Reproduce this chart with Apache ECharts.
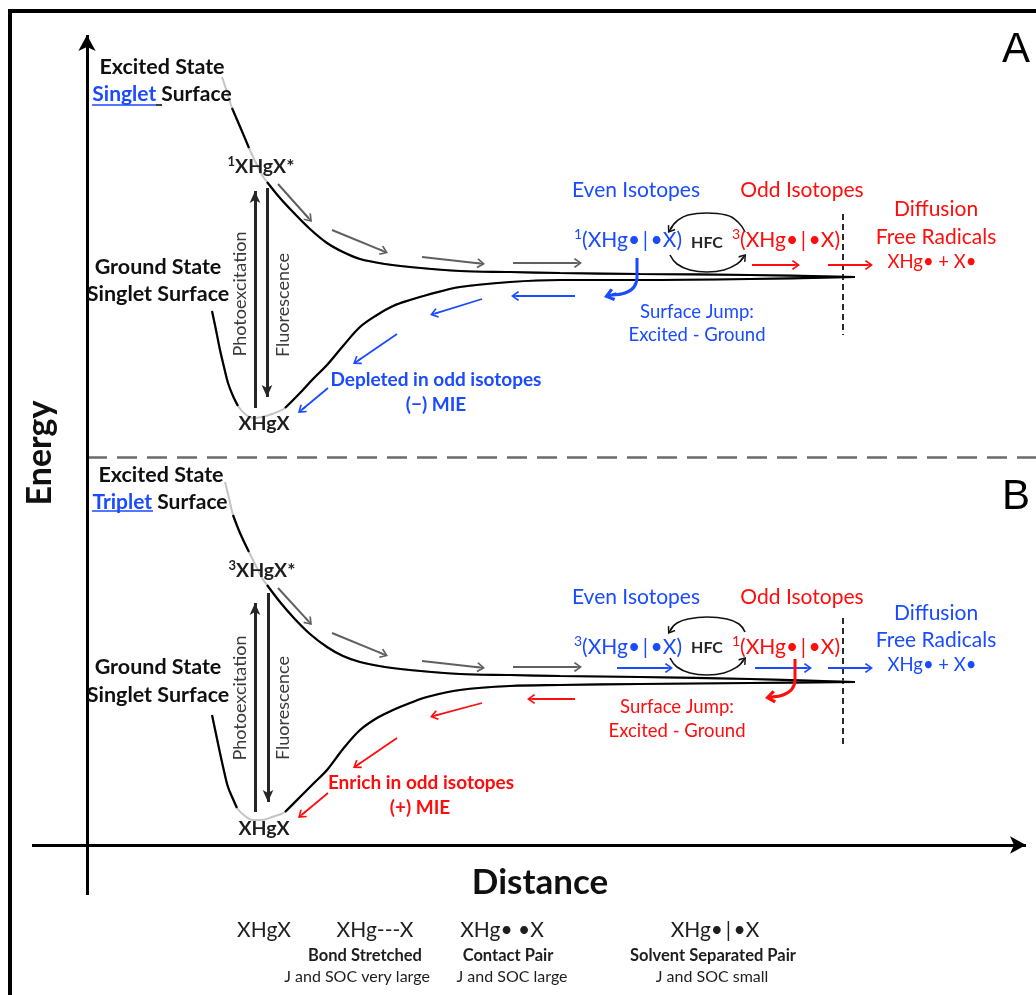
<!DOCTYPE html>
<html>
<head>
<meta charset="utf-8">
<script src="https://cdn.jsdelivr.net/npm/echarts@6/dist/echarts.min.js"></script>
<style>
  html, body { margin: 0; padding: 0; background: #ffffff; }
  #chart { width: 1036px; height: 995px; }
</style>
</head>
<body>
<div id="chart"></div>
<script>
// Energy-surface diagram for XHgX photolysis: (A) singlet and (B) triplet excited surfaces.
// All geometry lives in a 1036 x 995 "diagram" coordinate frame (y grows downward).

// ---- Panel A: singlet surfaces ----
const excitedA = [[222,77],[227,92],[232,108],[241,129],[249,148],[256,163],[262,175],[267,182],[280,198],[293,212],[310,229],[327,243],[343,252],[360,259],[385,264],[410,267],[460,271],[510,272],[560,273],[640,274],[750,275],[855,277]];
const excitedA_dark = [[[232,108],[241,129],[249,148]], [[267,182],[280,198],[293,212],[310,229],[327,243],[343,252],[360,259],[385,264],[410,267],[460,271],[510,272],[560,273],[640,274],[750,275],[855,277]]];
const groundA = [[212,311],[216,330],[220,350],[224,367],[228,383],[233,396],[238,406],[245,414],[253,418],[262,417],[272,414],[285,408],[300,393],[313,379],[327,365],[343,346],[360,327],[377,315],[393,306],[410,300],[427,295],[460,287],[510,282],[560,280],[640,280],[750,279],[855,277]];
const groundA_dark = [[[212,311],[216,330],[220,350],[224,367],[228,383],[233,396],[238,406]], [[285,408],[300,393],[313,379],[327,365],[343,346],[360,327],[377,315],[393,306],[410,300],[427,295],[460,287],[510,282],[560,280],[640,280],[750,279],[855,277]]];

// ---- Panel B: triplet excited surface, singlet ground surface ----
const excitedB = [[225,482],[229,498],[233,515],[240,533],[249,552],[256,566],[262,578],[267,585],[280,602],[293,617],[310,634],[327,647],[343,656],[360,662],[385,667],[410,670],[460,674],[510,675],[560,676],[640,677],[750,679],[855,682]];
const excitedB_dark = [[[233,515],[240,533],[249,552]], [[267,585],[280,602],[293,617],[310,634],[327,647],[343,656],[360,662],[385,667],[410,670],[460,674],[510,675],[560,676],[640,677],[750,679],[855,682]]];
const groundB = [[212,715],[216,734],[220,753],[224,771],[228,787],[233,799],[237,808],[245,816],[253,820],[262,820],[272,817],[285,812],[300,797],[313,784],[327,770],[343,749],[360,730],[377,718],[393,710],[410,703],[427,697],[460,690],[510,686],[560,685],[640,684],[750,683],[855,682]];
const groundB_dark = [[[212,715],[216,734],[220,753],[224,771],[228,787],[233,799],[237,808]], [[285,812],[300,797],[313,784],[327,770],[343,749],[360,730],[377,718],[393,710],[410,703],[427,697],[460,690],[510,686],[560,685],[640,684],[750,683],[855,682]]];

// ---- straight arrows: [from, tip] ----
const grayArrows = [
  [[278,184],[312,222]], [[332,230],[388,253]], [[422,257],[485,264]], [[513,263],[582,263]],
  [[278,588],[312,625]], [[332,633],[388,656]], [[422,661],[485,668]], [[513,667],[582,667]]
];
const blueArrows = [
  [[575,296],[511,296]], [[482,299],[430,315]], [[397,334],[353,364]], [[328,388],[298,413]],
  [[617,668],[673,668]], [[755,668],[812,668]], [[828,668],[873,668]]
];
const redArrows = [
  [[752,265],[800,265]], [[828,265],[873,265]],
  [[575,699],[527,699]], [[482,703],[430,717]], [[397,738],[353,768]], [[328,793],[298,818]]
];
const transitionArrows = [
  [[255,408],[255,185]], [[267,188],[267,403]],
  [[255,812],[255,597]], [[268,593],[268,808]]
];
const mainAxes = [ [[87,895],[87,27]], [[32,845],[1034,845]] ];

// ---- curved arrows (surface jump, hyperfine coupling) ----
const jumpBlue = [[637,258],[637,277],[634,287],[625,293],[612,295]];
const jumpBlueHead = [[611,295],[604,297]];
const jumpRed = [[795,659],[795,680],[792,689],[783,695],[773,697]];
const jumpRedHead = [[772,697],[765,698]];
const hfcArcs = [
  [[745,232],[738,222],[726,215],[707,213],[688,215],[677,221],[671,228]],
  [[670,255],[677,264],[690,270],[707,272],[724,270],[737,264],[743,258]],
  [[745,632],[739,624],[727,619],[707,617],[688,619],[677,623],[671,629]],
  [[670,658],[677,667],[690,673],[707,675],[724,673],[737,667],[743,661]]
];
const hfcHeads = [ [[672,227],[668,233]], [[742,259],[746,254]], [[672,628],[668,634]], [[742,662],[746,657]] ];

// ---- plain rules ----
const frameLines = [ [[8,11],[1036,11]], [[10,9],[10,995]] ];
const panelDivider = [ [[87,457],[1036,457]] ];
const cageBoundary = [ [[843,214],[843,335]], [[843,618],[843,748]] ];
const underlineBlue = [ [[92,105],[156,105]], [[92,511],[153,511]] ];
const underlineBlack = [ [[156,105],[162,105]] ];

// ---- text ----
const TS = '\u2009'; // thin space around the solvent-cage bar
const surfaceTitles = [
  [162,67,'Excited State'], [158,267,'Ground State'], [158,294,'Singlet Surface'],
  [161,475,'Excited State'], [158,667,'Ground State'], [158,695,'Singlet Surface']
];
const multiplicityTitles = [ [162,94,'{u|Singlet }{k|Surface}'], [160,502,'{u|Triplet} {k|Surface}'] ];
const speciesLabels = [ [261,167,'{s|1}XHgX*'], [264,424,'XHgX'], [262,571,'{s|3}XHgX*'], [264,829,'XHgX'] ];
const transitionLabels = [ [240,294,'Photoexcitation'], [283,305,'Fluorescence'], [240,698,'Photoexcitation'], [283,708,'Fluorescence'] ];
const cagePair = '(XHg•' + TS + '|' + TS + '•X)';
const blueLarge = [ [636,190,'Even Isotopes'], [628,240,'{s|1}' + cagePair], [636,597,'Even Isotopes'], [628,647,'{s|3}' + cagePair], [936,613,'Diffusion'], [936,640,'Free Radicals'] ];
const redLarge = [ [802,190,'Odd Isotopes'], [786,240,'{s|3}' + cagePair], [802,597,'Odd Isotopes'], [786,647,'{s|1}' + cagePair], [936,209,'Diffusion'], [936,237,'Free Radicals'] ];
const blueSmall = [ [697,312,'Surface Jump:'], [697,335,'Excited - Ground'], [932,665,'XHg• + X•'] ];
const redSmall = [ [932,262,'XHg• + X•'], [677,707,'Surface Jump:'], [677,731,'Excited - Ground'] ];
const hfcLabels = [ [707,243,'HFC'], [707,648,'HFC'] ];
const mieBlue = [ [436,380,'Depleted in odd isotopes'], [436,405,'(−) MIE'] ];
const mieRed = [ [421,783,'Enrich in odd isotopes'], [420,808,'(+) MIE'] ];
const energyTitle = [ [40,453,'Energy'] ];
const distanceTitle = [ [540,883,'Distance'] ];
const panelLetters = [ [1016,50,'A'], [1016,497,'B'] ];
const pairFormulas = [ [264,930,'XHgX'], [375,930,'XHg---X'], [502,930,'XHg• •X'], [715,930,'XHg•' + TS + '|' + TS + '•X'] ];
const pairNames = [ [365,956,'Bond Stretched'], [508,956,'Contact Pair'], [713,956,'Solvent Separated Pair'] ];
const pairCoupling = [ [357,977,'J and SOC very large'], [512,977,'J and SOC large'], [712,977,'J and SOC small'] ];

// ---- styling ----
const FONT = 'Lato, "Noto Sans", sans-serif';
const BLUE = '#1a4bff';
const RED = '#ff0d0d';
const INK = '#101010';
const CHEVRON = 'path://M5,0 L10,7 L8.8,8.2 L5.7,3.8 L5.7,10 L4.3,10 L4.3,3.8 L1.2,8.2 L0,7 Z';
const CHEVRON_BOLD = 'path://M5,0 L10,6.5 L8.2,8.2 L6,5.2 L6,10 L4,10 L4,5.2 L1.8,8.2 L0,6.5 Z';

function unit(a, b) {
  const dx = b[0] - a[0], dy = b[1] - a[1], L = Math.hypot(dx, dy) || 1;
  return [dx / L, dy / L, L];
}

// Arrow whose head tip lands on `tip` (line symbols are centred on the end point).
function arrowCoords(from, tip, headLen) {
  const [ux, uy, L] = unit(from, tip);
  const end = [tip[0] - ux * headLen / 2, tip[1] - uy * headLen / 2];
  const start = L > headLen / 2 + 1 ? from : [end[0] - ux, end[1] - uy];
  return [start, end];
}

function arrows(list, color, width, head, size) {
  return {
    type: 'lines', coordinateSystem: 'cartesian2d', silent: true, animation: false, z: 3,
    symbol: ['none', head], symbolSize: [size, size],
    lineStyle: { color: color, width: width, opacity: 1, curveness: 0 },
    data: list.map(p => ({ coords: arrowCoords(p[0], p[1], size[1]) }))
  };
}

function rules(list, color, width, type) {
  return {
    type: 'lines', coordinateSystem: 'cartesian2d', silent: true, animation: false, z: 2,
    symbol: ['none', 'none'],
    lineStyle: { color: color, width: width, type: type || 'solid', opacity: 1 },
    data: list.map(p => ({ coords: p }))
  };
}

function curve(points, color, width, smooth, z) {
  return {
    type: 'line', data: points, smooth: smooth == null ? 0.35 : smooth, symbol: 'none',
    silent: true, animation: false, z: z || 2, clip: false,
    lineStyle: { color: color, width: width }
  };
}

function text(items, style) {
  return {
    type: 'scatter', silent: true, animation: false, z: 6, symbolSize: 1,
    itemStyle: { color: 'rgba(0,0,0,0)', opacity: 1 },
    data: items.map(t => ({ name: t[2], value: [t[0], t[1]] })),
    label: Object.assign({
      show: true, position: 'inside', align: 'center', verticalAlign: 'middle',
      formatter: p => p.name, fontFamily: FONT, opacity: 1
    }, style),
    labelLayout: { hideOverlap: false }
  };
}

const series = [];
// frame, divider, cage boundary
series.push(rules(frameLines, '#000', 4));
series.push(rules(panelDivider, '#6b6b6b', 2.5, [20, 10]));
series.push(rules(cageBoundary, '#2a2a2a', 2, [6, 4]));
series.push(rules(underlineBlue, BLUE, 1.6));
series.push(rules(underlineBlack, INK, 1.6));

// potential energy curves: light guide underneath, dark strokes on top
[excitedA, groundA, excitedB, groundB].forEach(c => series.push(curve(c, '#c4c4c4', 2)));
[excitedA_dark, groundA_dark, excitedB_dark, groundB_dark].forEach(parts =>
  parts.forEach(c => series.push(curve(c, '#000', 2.2, null, 3))));

// axes with arrowheads
series.push(arrows(mainAxes, '#000', 3, 'arrow', [13, 16]));
// vertical transitions
series.push(arrows(transitionArrows, '#262626', 3, 'arrow', [8, 12]));
// relaxation / product arrows
series.push(arrows(grayArrows, '#606060', 2, CHEVRON, [10, 10]));
series.push(arrows(blueArrows, BLUE, 1.8, CHEVRON, [10, 10]));
series.push(arrows(redArrows, RED, 1.8, CHEVRON, [10, 10]));

// surface jumps
series.push(curve(jumpBlue, BLUE, 3, 0.4, 3));
series.push(curve(jumpRed, RED, 3, 0.4, 3));
series.push(arrows([jumpBlueHead], BLUE, 3, CHEVRON_BOLD, [13, 13]));
series.push(arrows([jumpRedHead], RED, 3, CHEVRON_BOLD, [13, 13]));

// hyperfine-coupling interconversion loops
hfcArcs.forEach(a => series.push(curve(a, '#111', 1.6, 0.45, 3)));
series.push(arrows(hfcHeads, '#111', 1.6, CHEVRON, [9, 9]));

// text
series.push(text(surfaceTitles, { color: INK, fontSize: 21.5, fontWeight: 'bold' }));
series.push(text(multiplicityTitles, {
  color: INK, fontSize: 21, fontWeight: 'bold',
  rich: {
    u: { color: BLUE, fontSize: 21, fontWeight: 'bold', fontFamily: FONT },
    k: { color: INK, fontSize: 21, fontWeight: 'bold', fontFamily: FONT }
  }
}));
series.push(text(speciesLabels, {
  color: '#1e1e1e', fontSize: 19.5, fontWeight: 'bold', lineHeight: 24,
  rich: { s: { color: '#1e1e1e', fontWeight: 'bold', fontSize: 13, verticalAlign: 'top', fontFamily: FONT } }
}));
series.push(text(transitionLabels, { color: '#3a3a3a', fontSize: 18, rotate: 90 }));
series.push(text(blueLarge, {
  color: BLUE, fontSize: 21, lineHeight: 26,
  rich: { s: { color: BLUE, fontSize: 14, verticalAlign: 'top', fontFamily: FONT } }
}));
series.push(text(redLarge, {
  color: RED, fontSize: 21, lineHeight: 26,
  rich: { s: { color: RED, fontSize: 14, verticalAlign: 'top', fontFamily: FONT } }
}));
series.push(text(blueSmall, { color: BLUE, fontSize: 18.5 }));
series.push(text(redSmall, { color: RED, fontSize: 18.5 }));
series.push(text(hfcLabels, { color: '#262626', fontSize: 16, fontWeight: 'bold' }));
series.push(text(mieBlue, { color: BLUE, fontSize: 19, fontWeight: 'bold' }));
series.push(text(mieRed, { color: RED, fontSize: 19, fontWeight: 'bold' }));
series.push(text(energyTitle, { color: INK, fontSize: 34, fontWeight: 'bold', rotate: 90 }));
series.push(text(distanceTitle, { color: INK, fontSize: 35, fontWeight: 'bold' }));
series.push(text(panelLetters, { color: '#000', fontSize: 42, fontFamily: '"Liberation Sans", Arial, sans-serif' }));
series.push(text(pairFormulas, { color: '#1e1e1e', fontSize: 21 }));
series.push(text(pairNames, { color: '#1e1e1e', fontSize: 16.5, fontWeight: 'bold' }));
series.push(text(pairCoupling, { color: '#1e1e1e', fontSize: 16 }));

const chart = echarts.init(document.getElementById('chart'), null, { renderer: 'canvas' });
chart.setOption({
  animation: false,
  backgroundColor: '#ffffff',
  grid: { left: 0, right: 0, top: 0, bottom: 0, containLabel: false },
  xAxis: { type: 'value', min: 0, max: 1036, show: false },
  yAxis: { type: 'value', min: 0, max: 995, inverse: true, show: false },
  series: series
});
</script>
</body>
</html>
